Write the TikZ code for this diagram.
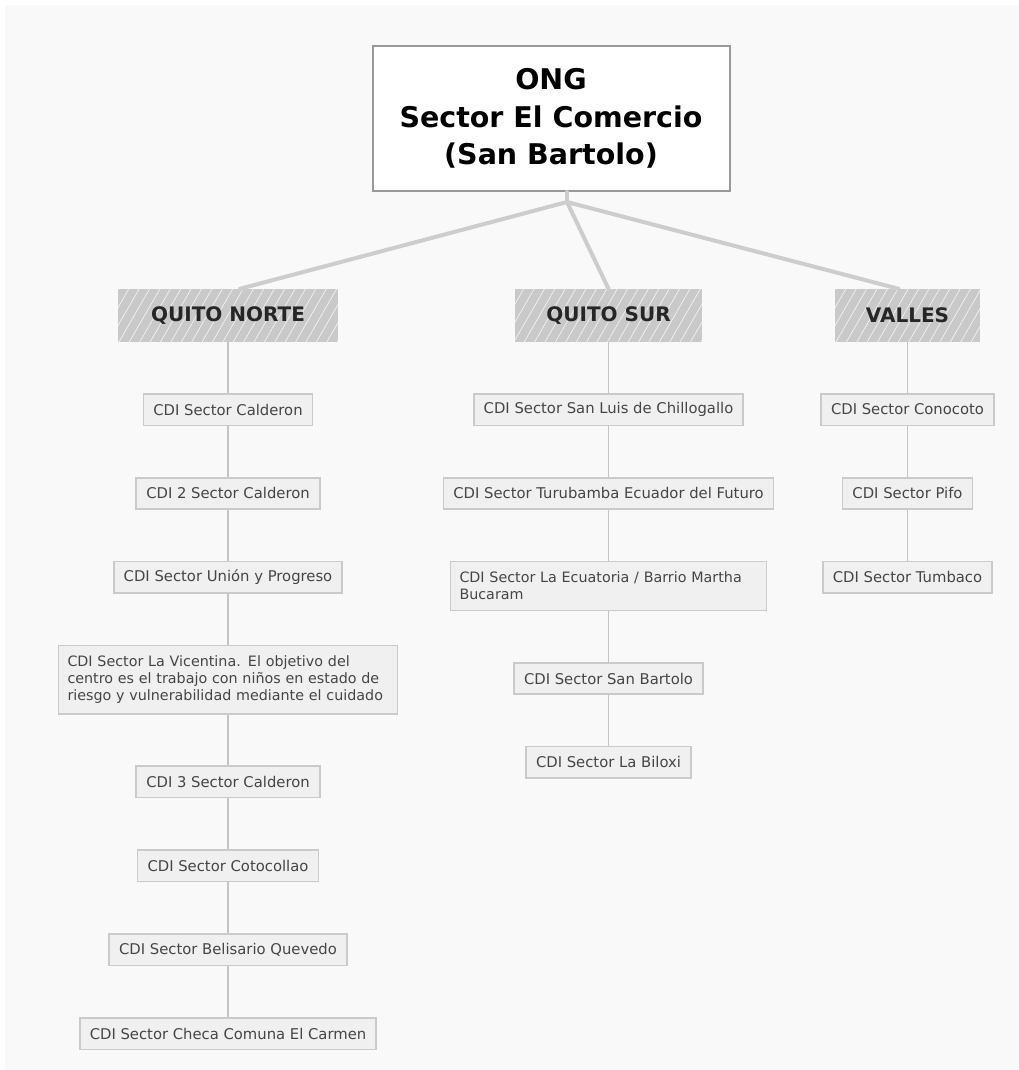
\documentclass[tikz,border=0pt]{standalone}
\usepackage{fontspec}
\setmainfont{DejaVu Sans}
\usetikzlibrary{positioning,patterns.meta}

\definecolor{bggray}{HTML}{F9F9F9}
\definecolor{headgray}{HTML}{C9C9C9}
\definecolor{boxfill}{HTML}{F0F0F0}
\definecolor{boxline}{HTML}{CACACA}
\definecolor{boxtext}{HTML}{454545}
\definecolor{linegray}{HTML}{C4C4C4}

\begin{document}
\begin{tikzpicture}[x=1pt,y=-1pt,node distance=50.8pt,
    root/.style={draw=gray!80,line width=2pt,fill=white,minimum width=357pt,
      minimum height=145pt,align=center,font=\fontsize{28.5}{37.5}\selectfont\bfseries},
    head/.style={fill=headgray,minimum height=53pt,text=black!85,
      font=\fontsize{20}{24}\selectfont\bfseries,
      postaction={pattern={Lines[angle=60,distance=9pt,line width=0.7pt]},pattern color=white!75!headgray}},
    cdi/.style={draw=boxline,line width=1.6pt,fill=boxfill,minimum height=31.5pt,
      inner xsep=10pt,text=boxtext,font=\fontsize{14.8}{16.7}\selectfont},
    cdiwide/.style={cdi,align=left,text width=#1,inner xsep=9pt,inner ysep=10.5pt,
      font=\fontsize{14.3}{16.7}\selectfont},
    link/.style={draw=linegray,line width=1.8pt},
    branch/.style={draw=linegray!85,line width=4pt,line cap=round}]

  \useasboundingbox (0,0) rectangle (1019,1070);
  \fill[white] (0,0) rectangle (1019,1070);
  \fill[bggray] (5,5) rectangle (1019,1070);

  \node[root] (ong) at (551,118.5) {ONG\\Sector El Comercio\\(San Bartolo)};

  \node[head,minimum width=220pt] (qn) at (228,315.5) {QUITO NORTE};
  \node[head,minimum width=187pt] (qs) at (608.5,315.5) {QUITO SUR};
  \node[head,minimum width=145pt] (vl) at (907.5,315.5) {VALLES};

  % Quito Norte
  \node[cdi] (qn1) [below=of qn] {CDI Sector Calderon};
  \node[cdi] (qn2) [below=of qn1] {CDI 2 Sector Calderon};
  \node[cdi] (qn3) [below=of qn2] {CDI Sector Unión y Progreso};
  \node[cdiwide=321pt] (qn4) [below=of qn3] {CDI Sector La Vicentina. El objetivo del\\
    centro es el trabajo con niños en estado de\\riesgo y vulnerabilidad mediante el cuidado};
  \node[cdi] (qn5) [below=of qn4] {CDI 3 Sector Calderon};
  \node[cdi] (qn6) [below=of qn5] {CDI Sector Cotocollao};
  \node[cdi] (qn7) [below=of qn6] {CDI Sector Belisario Quevedo};
  \node[cdi] (qn8) [below=of qn7] {CDI Sector Checa Comuna El Carmen};

  % Quito Sur
  \node[cdi] (qs1) [below=of qs] {CDI Sector San Luis de Chillogallo};
  \node[cdi] (qs2) [below=of qs1] {CDI Sector Turubamba Ecuador del Futuro};
  \node[cdiwide=298pt] (qs3) [below=of qs2] {CDI Sector La Ecuatoria / Barrio Martha\\Bucaram};
  \node[cdi] (qs4) [below=of qs3] {CDI Sector San Bartolo};
  \node[cdi] (qs5) [below=of qs4] {CDI Sector La Biloxi};

  % Valles
  \node[cdi] (vl1) [below=of vl] {CDI Sector Conocoto};
  \node[cdi] (vl2) [below=of vl1] {CDI Sector Pifo};
  \node[cdi] (vl3) [below=of vl2] {CDI Sector Tumbaco};

  \coordinate (hub) at (567,202);
  \draw[branch] (ong.south -| hub) -- (hub);
  \draw[branch] (hub) -- ([xshift=12pt]qn.north);
  \draw[branch] (hub) -- (qs.north);
  \draw[branch] (hub) -- ([xshift=-9pt]vl.north);

  \path[link]
    (qn) edge (qn1) (qn1) edge (qn2) (qn2) edge (qn3) (qn3) edge (qn4)
    (qn4) edge (qn5) (qn5) edge (qn6) (qn6) edge (qn7) (qn7) edge (qn8)
    (qs) edge (qs1) (qs1) edge (qs2) (qs2) edge (qs3) (qs3) edge (qs4)
    (qs4) edge (qs5)
    (vl) edge (vl1) (vl1) edge (vl2) (vl2) edge (vl3)
    ;
\end{tikzpicture}
\end{document}
